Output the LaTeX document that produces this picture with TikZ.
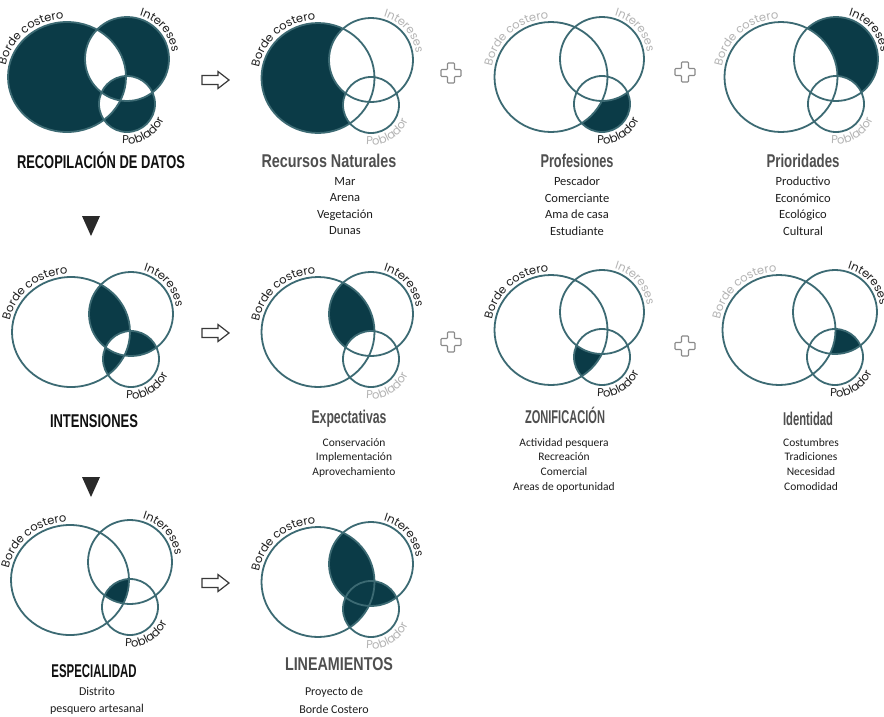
\documentclass[tikz,border=0pt]{standalone}
\usepackage{fontspec}
\usepackage{graphicx}
\setmainfont{Carlito}
\newfontfamily\titlefont{Liberation Sans}
\newfontfamily\arcfont{Poppins}
\usetikzlibrary{decorations.text}
\definecolor{vdark}{HTML}{0B3B47}
\definecolor{vline}{HTML}{3C6A73}
\definecolor{lblon}{HTML}{1F1F1F}
\definecolor{lbloff}{HTML}{B4B4B4}
\definecolor{ttlblack}{HTML}{111111}
\definecolor{ttlgray}{HTML}{4F4F4F}
\definecolor{listc}{HTML}{1E1E1E}
\definecolor{arrc}{HTML}{3A3A3A}
\definecolor{plusc}{HTML}{8A8A8A}
\definecolor{tric}{HTML}{2A2A2A}

\newcommand\arclbl{\arcfont\fontsize{11.5}{12}\selectfont}
\newcommand\ttl[3]{\resizebox{#2pt}{\height}{\titlefont\bfseries\fontsize{18.5}{20}\selectfont\color{#1}#3}}
\newcommand\lista{\fontsize{12.5}{16.5}\selectfont}
\newcommand\listb{\fontsize{11.5}{14.8}\selectfont}
\newcommand\listc{\fontsize{12}{17.5}\selectfont}

\newcommand\Bp{(0,0) ellipse [x radius=\bxrn, y radius=55]}
\newcommand\Ip{(\vdx,18) circle [radius=42]}
\newcommand\Pp{(\vdx,-27) circle [radius=28]}

\newcommand\fXor{\fill[vdark, even odd rule] \Bp \Ip \Pp;}
\newcommand\fB{\begin{scope}\clip \Bp; \fill[vdark] \Bp; \fill[white] \Ip; \fill[white] \Pp;\end{scope}}
\newcommand\fP{\begin{scope}\clip \Pp; \fill[vdark] \Pp; \fill[white] \Bp; \fill[white] \Ip;\end{scope}}
\newcommand\fI{\begin{scope}\clip \Ip; \fill[vdark] \Ip; \fill[white] \Bp; \fill[white] \Pp;\end{scope}}
\newcommand\fPairs{\begin{scope}\clip \Bp; \fill[vdark] \Ip; \fill[vdark] \Pp;\end{scope}%
  \begin{scope}\clip \Ip; \fill[vdark] \Pp;\end{scope}%
  \begin{scope}\clip \Bp; \clip \Ip; \fill[white] \Pp;\end{scope}}
\newcommand\fBI{\begin{scope}\clip \Bp; \fill[vdark] \Ip; \fill[white] \Pp;\end{scope}}
\newcommand\fBP{\begin{scope}\clip \Bp; \fill[vdark] \Pp; \fill[white] \Ip;\end{scope}}
\newcommand\fIP{\begin{scope}\clip \Ip; \fill[vdark] \Pp; \fill[white] \Bp;\end{scope}}
\newcommand\fTri{\begin{scope}\clip \Bp; \clip \Ip; \fill[vdark] \Pp;\end{scope}}
\newcommand\fUnion{\begin{scope}\clip \Bp; \fill[vdark] \Ip; \fill[vdark] \Pp;\end{scope}%
  \begin{scope}\clip \Ip; \fill[vdark] \Pp;\end{scope}}

\tikzset{
  vring/.style={draw=vline, line width=1.8pt},
  ttlnode/.style={anchor=base, inner sep=0pt},
  listnode/.style={anchor=north, align=center, inner sep=0pt, text=listc},
  hollowarrow/.style={draw=arrc, line width=1.2pt, fill=white, line join=miter},
  plussign/.style={draw=plusc, line width=1.1pt, fill=white, rounded corners=0.8pt},
  downtri/.style={fill=tric}
}

% #1 x, #2 y (image coords), #3 big x-radius, #4 dx, #5 fill, #6-#8 label colours
\newcommand\venn[8]{%
  \begin{scope}[shift={(#1,-#2)}]
    \def\bxrn{#3}\def\vdx{#4}%
    #5
    \draw[vring] \Bp;
    \draw[vring] \Ip;
    \draw[vring] \Pp;
    \pgfmathsetmacro\bxt{#3+3.5}%
    \path[decorate, decoration={text along path, text align=center,
      text={|\arclbl\color{#6}|Borde costero}}]
      (176:\bxt\space and 58.5) arc[start angle=176, end angle=86, x radius=\bxt, y radius=58.5];
    \begin{scope}[shift={(\vdx,18)}]
      \path[decorate, decoration={text along path, text align=center,
        text={|\arclbl\color{#7}|Intereses}}]
        (86:45.5) arc[start angle=86, end angle=-4, radius=45.5];
    \end{scope}
    \begin{scope}[shift={(\vdx,-27)}]
      \path[decorate, decoration={text along path, text align=center,
        text={|\arclbl\color{#8}|Poblador}}]
        (245:40) arc[start angle=245, end angle=355, radius=40];
    \end{scope}
  \end{scope}}

\newcommand\plusat[2]{%
  \draw[plussign] (#1-3.5,#2+10) -- (#1+3.5,#2+10) -- (#1+3.5,#2+3.5) -- (#1+10,#2+3.5)
   -- (#1+10,#2-3.5) -- (#1+3.5,#2-3.5) -- (#1+3.5,#2-10) -- (#1-3.5,#2-10)
   -- (#1-3.5,#2-3.5) -- (#1-10,#2-3.5) -- (#1-10,#2+3.5) -- (#1-3.5,#2+3.5) -- cycle;}
\newcommand\arrowat[2]{%
  \draw[hollowarrow] (#1-13,#2+4.5) -- (#1+3,#2+4.5) -- (#1+3,#2+8.5) -- (#1+14,#2)
   -- (#1+3,#2-8.5) -- (#1+3,#2-4.5) -- (#1-13,#2-4.5) -- cycle;}

\begin{document}
\begin{tikzpicture}[x=1pt,y=1pt]
\useasboundingbox (0,0) rectangle (884,-716);
\fill[white] (0,0) rectangle (884,-716);

\venn{67}{77}{59}{60}{\fXor}{lblon}{lblon}{lblon}
\venn{318}{78}{56.5}{53}{\fB}{lblon}{lbloff}{lbloff}
\venn{551}{77}{56.5}{51}{\fP}{lbloff}{lbloff}{lblon}
\venn{781}{77}{56.5}{55}{\fI}{lbloff}{lblon}{lbloff}
\venn{71}{332}{59}{60}{\fPairs}{lblon}{lblon}{lblon}
\venn{318}{332}{56.5}{53}{\fBI}{lblon}{lblon}{lbloff}
\venn{551}{330}{56.5}{51}{\fBP}{lblon}{lbloff}{lblon}
\venn{779}{330}{56.5}{56}{\fIP}{lbloff}{lblon}{lblon}
\venn{70}{580}{59}{60}{\fTri}{lblon}{lblon}{lblon}
\venn{318}{582}{56.5}{53}{\fUnion}{lblon}{lblon}{lbloff}

\arrowat{215}{-80}
\arrowat{215}{-333}
\arrowat{215}{-583}
\plusat{451}{-73}
\plusat{685}{-72}
\plusat{451}{-342}
\plusat{685}{-346}
\fill[downtri] (82,-216) -- (100,-216) -- (91,-236) -- cycle;
\fill[downtri] (82,-477) -- (100,-477) -- (91,-497) -- cycle;

\node[ttlnode] (t11) at (101,-168) {\ttl{ttlblack}{168}{RECOPILACIÓN DE DATOS}};
\node[ttlnode] (t12) at (329,-167) {\ttl{ttlgray}{135}{Recursos Naturales}};
\node[ttlnode] (t13) at (577,-167) {\ttl{ttlgray}{73}{Profesiones}};
\node[ttlnode] (t14) at (803,-167) {\ttl{ttlgray}{73}{Prioridades}};
\node[ttlnode] (t21) at (94,-427) {\ttl{ttlblack}{88}{INTENSIONES}};
\node[ttlnode] (t22) at (349,-423) {\ttl{ttlgray}{75}{Expectativas}};
\node[ttlnode] (t23) at (565,-423) {\ttl{ttlgray}{80}{ZONIFICACIÓN}};
\node[ttlnode] (t24) at (808,-425) {\ttl{ttlgray}{50}{Identidad}};
\node[ttlnode] (t31) at (94,-677) {\ttl{ttlblack}{85}{ESPECIALIDAD}};
\node[ttlnode] (t32) at (339,-670) {\ttl{ttlgray}{108}{LINEAMIENTOS}};

\node[listnode, font=\lista] (l12) at (345,-177) {Mar\\Arena\\Vegetación\\Dunas};
\node[listnode, font=\lista] (l13) at (577,-177) {Pescador\\Comerciante\\Ama de casa\\Estudiante};
\node[listnode, font=\lista] (l14) at (803,-177) {Productivo\\Económico\\Ecológico\\Cultural};
\node[listnode, font=\listb] (l22) at (354,-438) {Conservación\\Implementación\\Aprovechamiento};
\node[listnode, font=\listb] (l23) at (564,-438) {Actividad pesquera\\Recreación\\Comercial\\Areas de oportunidad};
\node[listnode, font=\listb] (l24) at (811,-438) {Costumbres\\Tradiciones\\Necesidad\\Comodidad};
\node[listnode, font=\listc] (l31) at (97,-687) {Distrito\\pesquero artesanal};
\node[listnode, font=\listc] (l32) at (334,-687) {Proyecto de\\Borde Costero};
\end{tikzpicture}
\end{document}
